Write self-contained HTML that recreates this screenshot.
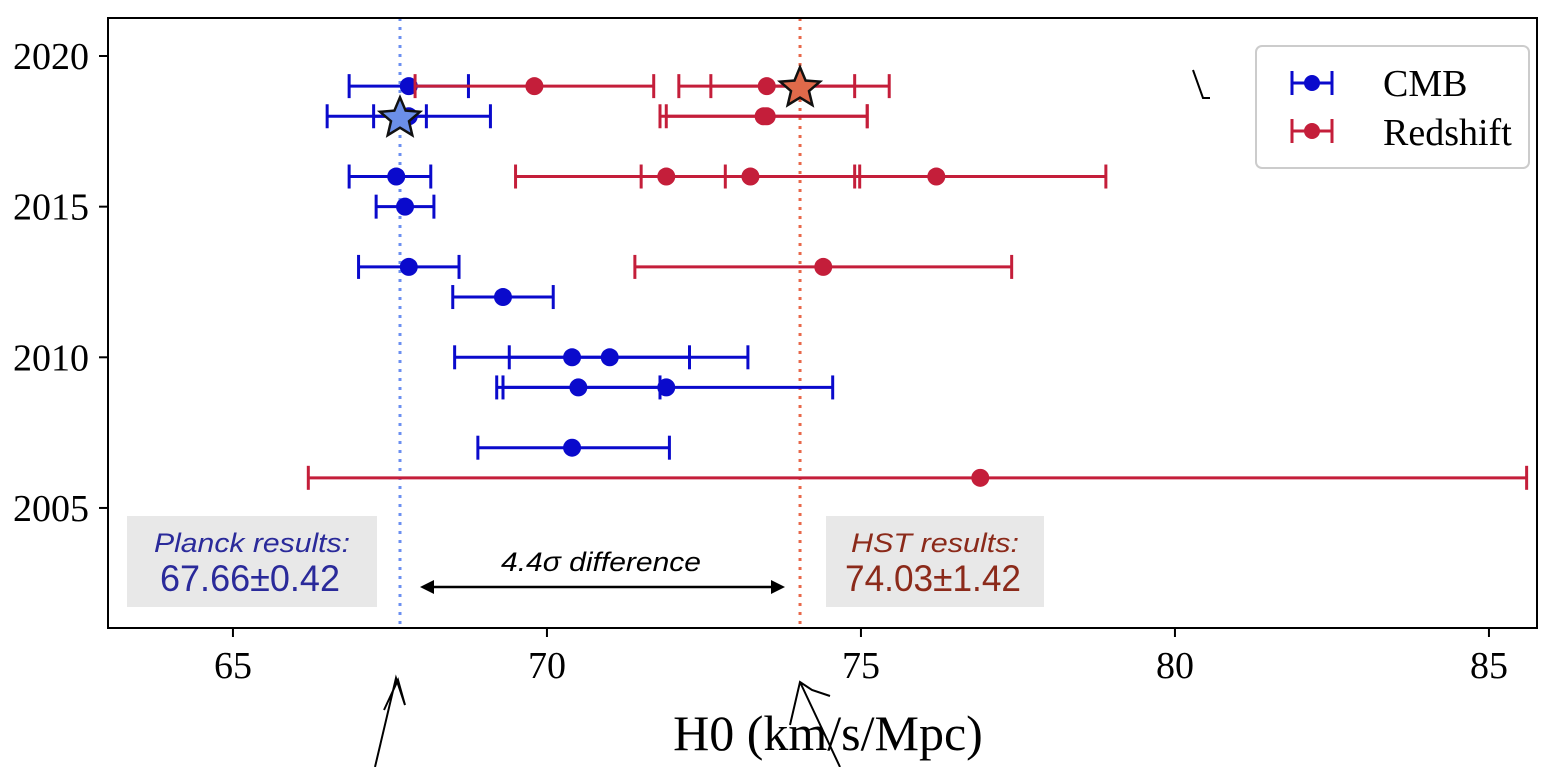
<!DOCTYPE html>
<html><head><meta charset="utf-8"><style>
html,body{margin:0;padding:0;background:#fff;width:1566px;height:767px;overflow:hidden}
svg{display:block}
</style></head><body>
<svg id="chart" width="1566" height="767" xmlns="http://www.w3.org/2000/svg" font-family="'Liberation Serif', serif">
<g id="annots">
  <rect x="127" y="516" width="250" height="91" fill="#e8e8e8"/>
  <text x="252" y="552" text-anchor="middle" font-family="'Liberation Sans',sans-serif" font-style="italic" font-size="27" fill="#2a2a9a" textLength="196" lengthAdjust="spacingAndGlyphs">Planck results:</text>
  <text x="250" y="591" text-anchor="middle" font-family="'Liberation Sans',sans-serif" font-size="37" fill="#2a2a9a" textLength="180" lengthAdjust="spacingAndGlyphs">67.66±0.42</text>
  <rect x="826" y="516" width="218" height="91" fill="#e8e8e8"/>
  <text x="935" y="552" text-anchor="middle" font-family="'Liberation Sans',sans-serif" font-style="italic" font-size="27" fill="#8b2a1a" textLength="168" lengthAdjust="spacingAndGlyphs">HST results:</text>
  <text x="933" y="591" text-anchor="middle" font-family="'Liberation Sans',sans-serif" font-size="37" fill="#8b2a1a" textLength="176" lengthAdjust="spacingAndGlyphs">74.03±1.42</text>
  <text x="601" y="571" text-anchor="middle" font-family="'Liberation Sans',sans-serif" font-style="italic" font-size="27" textLength="200" lengthAdjust="spacingAndGlyphs">4.4σ difference</text>
  <line x1="428" y1="587" x2="777" y2="587" stroke="#000" stroke-width="2.5"/>
  <path d="M420 587 L434 580 L434 594 Z M785 587 L771 580 L771 594 Z" fill="#000"/>
</g>
<g id="plot"></g>
<g id="legend">
  <rect x="1256" y="46" width="273" height="122" rx="6" fill="#fff" stroke="#ccc" stroke-width="2"/>
  <g stroke="#0a0acc" stroke-width="3">
    <line x1="1292" y1="83" x2="1332" y2="83"/><line x1="1292" y1="71" x2="1292" y2="95"/><line x1="1332" y1="71" x2="1332" y2="95"/>
    <circle cx="1312" cy="83" r="8" fill="#0a0acc" stroke="none"/>
  </g>
  <text x="1383" y="96" font-size="38">CMB</text>
  <g stroke="#c41e3a" stroke-width="3">
    <line x1="1292" y1="131" x2="1332" y2="131"/><line x1="1292" y1="119" x2="1292" y2="143"/><line x1="1332" y1="119" x2="1332" y2="143"/>
    <circle cx="1312" cy="131" r="8" fill="#c41e3a" stroke="none"/>
  </g>
  <text x="1383" y="145" font-size="38">Redshift</text>
</g>
<g fill="none" stroke="#000" stroke-width="2">
  <path d="M375 767 L396 678 L405 705 L398 680 L384 710"/>
  <path d="M790 725 L800 682 L812 690 L830 696 M800 682 L840 767"/>
  <path d="M1193 70 L1203 98 L1210 98"/>
</g>
</svg>
<script>
const cmbValues=[67.8,67.8,67.6,67.74,67.8,69.3,70.4,71.0,70.5,71.9,70.4];
const cmbYears=[2019,2018,2016,2015,2013,2012,2010,2010,2009,2009,2007];
const cmbLo=[0.95,1.3,0.75,0.46,0.8,0.8,1.87,1.6,1.3,2.6,1.5];
const cmbHi=[0.95,1.3,0.55,0.46,0.8,0.8,1.87,2.2,1.3,2.65,1.55];
const zRedValues=[69.8,73.5,73.45,73.5,71.9,73.24,76.2,74.4,76.9];
const redYears=[2019,2019,2018,2018,2016,2016,2016,2013,2006];
const redLo=[1.9,1.4,1.65,1.6,2.4,1.74,3.36,3.0,10.7];
const redHi=[1.9,1.4,1.65,1.6,3.0,1.74,2.7,3.0,8.7];
const starValues=[74.03,67.66];
const starYears=[2019,2018];
const starErr=[1.42,0.42];
const xTicks=[65,70,75,80,85];
const yTicks=[2005,2010,2015,2020];
const planckH0=67.66, hstH0=74.03;

const L=108,R=1537,T=18,B=628;
const x=v=>400+(v-67.66)*62.8;
const y=yr=>56+(2020-yr)*30.13;
const NS='http://www.w3.org/2000/svg';
const g=document.getElementById('plot');
function mk(tag,attrs,parent){const e=document.createElementNS(NS,tag);for(const k in attrs)e.setAttribute(k,attrs[k]);(parent||g).appendChild(e);return e;}

let ln=mk('line',{x1:x(planckH0),x2:x(planckH0),y1:T,y2:B,stroke:'#6b8ff0','stroke-width':3,'stroke-dasharray':'3 6'});


ln=mk('line',{x1:x(hstH0),x2:x(hstH0),y1:T,y2:B,stroke:'#e8684a','stroke-width':3,'stroke-dasharray':'3 6'});



function errbar(v,yr,lo,hi,col,name){
  const grp=mk('g',{stroke:col,'stroke-width':3});
  
  
  const yy=y(yr),a=x(v-lo),b=x(v+hi);
  mk('line',{x1:a,x2:b,y1:yy,y2:yy},grp);
  mk('line',{x1:a,x2:a,y1:yy-12,y2:yy+12},grp);
  mk('line',{x1:b,x2:b,y1:yy-12,y2:yy+12},grp);
  mk('circle',{cx:x(v),cy:yy,r:9,fill:col,stroke:'none'},grp);
}
cmbValues.forEach((v,i)=>errbar(v,cmbYears[i],cmbLo[i],cmbHi[i],'#0a0acc','cmb-point'));
zRedValues.forEach((v,i)=>errbar(v,redYears[i],redLo[i],redHi[i],'#c41e3a','redshift-point'));

function star(cx,cy,r,col,name){
  let p='';for(let i=0;i<10;i++){const a=-Math.PI/2+i*Math.PI/5;const rr=i%2?r*0.45:r;p+=(i?'L':'M')+(cx+rr*Math.cos(a)).toFixed(1)+' '+(cy+rr*Math.sin(a)).toFixed(1);}
  const s=mk('path',{d:p+'Z',fill:col,stroke:'#111','stroke-width':2.5});
  
  
}
starValues.forEach((v,i)=>{
  const col=i===0?'#c41e3a':'#0a0acc';
  const grp=mk('g',{stroke:col,'stroke-width':3});
  
  
  const yy=y(starYears[i]),a=x(v-starErr[i]),b=x(v+starErr[i]);
  mk('line',{x1:a,x2:b,y1:yy,y2:yy},grp);
  mk('line',{x1:a,x2:a,y1:yy-12,y2:yy+12},grp);
  mk('line',{x1:b,x2:b,y1:yy-12,y2:yy+12},grp);
});
star(x(starValues[0]),y(starYears[0])+2,21,'#e06a4a','hst-star');
star(x(starValues[1]),y(starYears[1])+2,21,'#6b8fe8','planck-star');

const fr=mk('rect',{x:L,y:T,width:R-L,height:B-T,fill:'none',stroke:'#000','stroke-width':2});


xTicks.forEach(t=>{
  mk('line',{x1:x(t),x2:x(t),y1:B,y2:B+9,stroke:'#000','stroke-width':2});
  const tx=mk('text',{x:x(t),y:B+50,'text-anchor':'middle','font-size':38});
  tx.textContent=t;
  
  
});
yTicks.forEach(t=>{
  mk('line',{x1:L-9,x2:L,y1:y(t),y2:y(t),stroke:'#000','stroke-width':2});
  const tx=mk('text',{x:L-19,y:y(t)+13,'text-anchor':'end','font-size':38});
  tx.textContent=t;
  
  
});
const xl=mk('text',{x:828,y:750,'text-anchor':'middle','font-size':50});
xl.textContent='H0 (km/s/Mpc)';


</script>
</body></html>
